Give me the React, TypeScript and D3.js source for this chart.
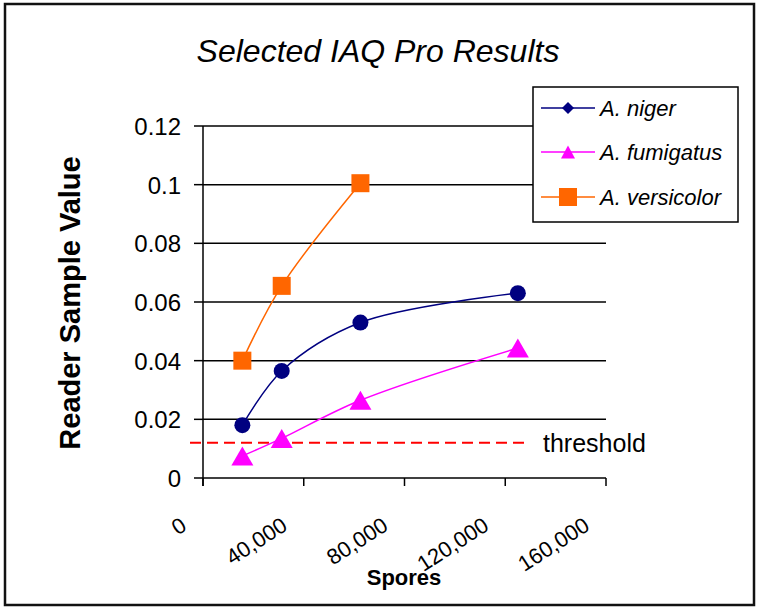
import React from "react";
import * as d3 from "d3";

const spores = [15625, 31250, 62500, 125000];
const nigerValues = [0.018, 0.0365, 0.053, 0.063];
const fumigatusValues = [0.0075, 0.0135, 0.0265, 0.0443];
const versicolorValues = [0.04, 0.0655, 0.1005];
const thresholdValue = 0.012;
const xTicks = [0, 40000, 80000, 120000, 160000];
const yTicks = [0, 0.02, 0.04, 0.06, 0.08, 0.1, 0.12];
const seriesNames = ["A. niger", "A. fumigatus", "A. versicolor"];

const W = 757;
const H = 608;
const FONT = "'Liberation Sans', Arial, sans-serif";

export default function App() {
  const x = d3.scaleLinear().domain([0, 160000]).range([203, 606]);
  const y = d3.scaleLinear().domain([0, 0.12]).range([478, 126]);
  const fmtX = d3.format(",");
  const fmtY = (v: number) => (v === 0 ? "0" : String(+v.toFixed(2)));

  const line = d3
    .line<[number, number]>()
    .x((d) => x(d[0]))
    .y((d) => y(d[1]))
    .curve(d3.curveCatmullRom.alpha(0.5));

  const niger = spores.map((s, i) => [s, nigerValues[i]] as [number, number]);
  const fumi = spores.map((s, i) => [s, fumigatusValues[i]] as [number, number]);
  const vers = versicolorValues.map((v, i) => [spores[i], v] as [number, number]);

  const tri = (cx: number, cy: number, w: number, h: number) =>
    `M${cx},${cy - h / 2}L${cx + w / 2},${cy + h / 2}L${cx - w / 2},${cy + h / 2}Z`;

  const colors = ["#000080", "#FF00FF", "#FF6600"];
  const legendY = [108, 152, 197];

  return (
    <svg
      width={W}
      height={H}
      style={{ position: "absolute", left: 0, top: 0, background: "#fff" }}
      fontFamily={FONT}
    >
      <rect x={0} y={0} width={W} height={H} fill="#fff" />
      <rect x={5} y={4} width={749} height={601} fill="#fff" stroke="#111" strokeWidth={2.5} />

      <text x={378} y={62} textAnchor="middle" fontSize={32} fontStyle="italic" fill="#000">
        Selected IAQ Pro Results
      </text>

      {/* gridlines */}
      {yTicks.map((t) => (
        <g key={"y" + t}>
          {t > 0 && (
            <line x1={x(0)} x2={x(160000)} y1={y(t)} y2={y(t)} stroke="#000" strokeWidth={1.5} />
          )}
          <line x1={194} x2={x(0)} y1={y(t)} y2={y(t)} stroke="#000" strokeWidth={1.5} />
          <text x={181} y={y(t) + 9} textAnchor="end" fontSize={24} fill="#000">
            {fmtY(t)}
          </text>
        </g>
      ))}

      {/* axes */}
      <line x1={x(0)} x2={x(0)} y1={y(0.12)} y2={y(0) + 8} stroke="#000" strokeWidth={1.5} />
      <line x1={x(0)} x2={x(160000)} y1={y(0)} y2={y(0)} stroke="#000" strokeWidth={1.5} />
      {xTicks.map((t) => (
        <g key={"x" + t}>
          <line x1={x(t)} x2={x(t)} y1={y(0)} y2={y(0) + 8} stroke="#000" strokeWidth={1.5} />
          <text
            transform={`translate(${x(t) - 15},${529}) rotate(-33)`}
            textAnchor="end"
            fontSize={22}
            fill="#000"
          >
            {fmtX(t)}
          </text>
        </g>
      ))}

      <text x={404} y={585} textAnchor="middle" fontSize={22} fontWeight="bold" fill="#000">
        Spores
      </text>
      <text
        transform={`translate(80,${303}) rotate(-90)`}
        textAnchor="middle"
        fontSize={29}
        fontWeight="bold"
        fill="#000"
      >
        Reader Sample Value
      </text>

      {/* threshold */}
      <line
        x1={190}
        x2={530}
        y1={y(thresholdValue)}
        y2={y(thresholdValue)}
        stroke="#FF0000"
        strokeWidth={2}
        strokeDasharray="11,6"
      />
      <text x={543} y={y(thresholdValue) + 9} fontSize={25} fill="#000">
        threshold
      </text>

      {/* series */}
      <path d={line(vers) || ""} fill="none" stroke={colors[2]} strokeWidth={1.5} />
      <path d={line(niger) || ""} fill="none" stroke={colors[0]} strokeWidth={1.5} />
      <path d={line(fumi) || ""} fill="none" stroke={colors[1]} strokeWidth={1.5} />

      {niger.map((d, i) => (
        <circle key={"n" + i} cx={x(d[0])} cy={y(d[1])} r={8} fill={colors[0]} />
      ))}
      {fumi.map((d, i) => (
        <path key={"f" + i} d={tri(x(d[0]), y(d[1]), 22, 19)} fill={colors[1]} />
      ))}
      {vers.map((d, i) => (
        <rect key={"v" + i} x={x(d[0]) - 9} y={y(d[1]) - 9} width={18} height={18} fill={colors[2]} />
      ))}

      {/* legend */}
      <rect x={533} y={87} width={205} height={135} fill="#fff" stroke="#000" strokeWidth={1.5} />
      {seriesNames.map((n, i) => (
        <g key={n}>
          <line x1={541} x2={595} y1={legendY[i]} y2={legendY[i]} stroke={colors[i]} strokeWidth={1.5} />
          {i === 0 && (
            <path
              d={`M568,${legendY[i] - 6}L574,${legendY[i]}L568,${legendY[i] + 6}L562,${legendY[i]}Z`}
              fill={colors[i]}
            />
          )}
          {i === 1 && <path d={tri(568, legendY[i], 14, 13)} fill={colors[i]} />}
          {i === 2 && <rect x={559} y={legendY[i] - 9} width={18} height={18} fill={colors[i]} />}
          <text x={600} y={legendY[i] + 8} fontSize={22} fontStyle="italic" fill="#000">
            {n}
          </text>
        </g>
      ))}
    </svg>
  );
}
